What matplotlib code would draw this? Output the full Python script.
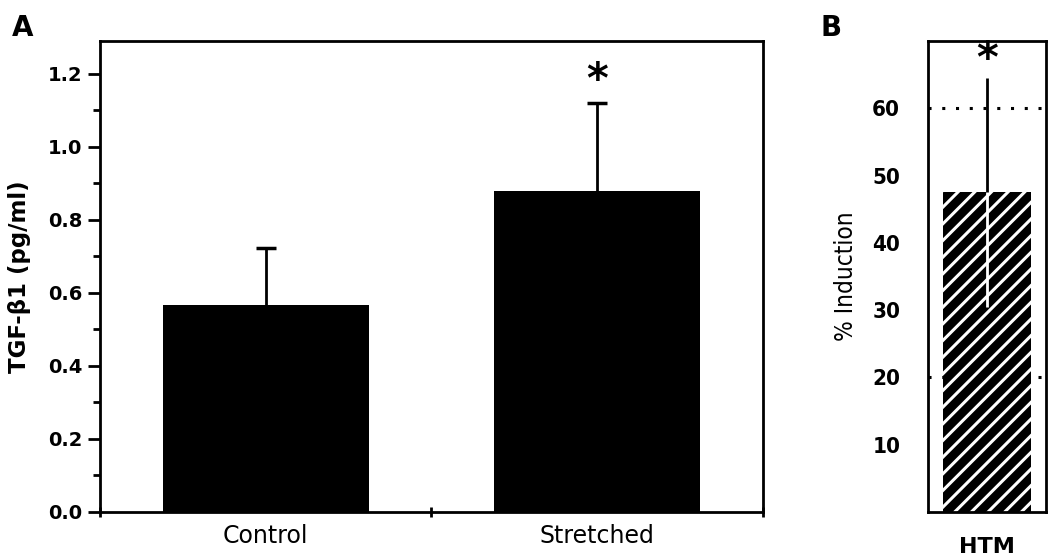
import matplotlib

matplotlib.use("Agg")

import matplotlib.pyplot as plt
import numpy as np
from matplotlib.ticker import MultipleLocator, FixedLocator

# panel A data
groups = ["Control", "Stretched"]
tgf_means = [0.567, 0.88]
tgf_err = [0.155, 0.24]
star_a = 1.18

# panel B data
htm_label = ["HTM"]
induction_mean = [47.5]
induction_err = [17.0]
ref_lines = [20, 60]
star_b = 67.2

plt.rcParams["hatch.linewidth"] = 2.2
narrow = ["Liberation Sans Narrow", "DejaVu Sans"]

fig = plt.figure(figsize=(10.5, 5.59), dpi=100)

# ---- panel A
ax = fig.add_axes([0.0952, 0.0841, 0.6315, 0.8426])
xs = np.array([1, 2])
tops = np.array(tgf_means) + np.array(tgf_err)
ax.bar(xs, tgf_means, width=0.62, color="black", zorder=2)
# only the upper half of each error bar is drawn
ax.vlines(xs, tgf_means, tops, color="black", linewidth=2, zorder=1)
ax.plot(xs, tops, linestyle="none", marker="_", markersize=15,
        markeredgewidth=2.5, color="black", zorder=1)
ax.text(2, star_a, "*", ha="center", va="center", fontsize=30, fontweight="bold")
ax.set_xlim(0.5, 2.5)
ax.set_ylim(0, 1.29)
ax.yaxis.set_minor_locator(MultipleLocator(0.1))
ax.set_yticks([0.0, 0.2, 0.4, 0.6, 0.8, 1.0, 1.2])
ax.set_yticklabels(["0.0", "0.2", "0.4", "0.6", "0.8", "1.0", "1.2"])
ax.set_xticks(xs)
ax.set_xticklabels(groups, fontsize=17)
ax.xaxis.set_minor_locator(FixedLocator([0.5, 1.5, 2.5]))
ax.tick_params(axis="x", which="major", length=0, pad=9)
ax.tick_params(axis="x", which="minor", length=7, width=2, direction="inout")
ax.tick_params(axis="y", which="major", length=8.5, width=2, pad=4, labelsize=14)
ax.tick_params(axis="y", which="minor", length=5, width=2)
for lbl in ax.get_yticklabels():
    lbl.set_fontweight("bold")
for s in ax.spines.values():
    s.set_linewidth(2)
ax.set_ylabel("TGF-β1 (pg/ml)", fontsize=16.5, fontweight="bold", labelpad=12)
fig.text(0.011, 0.975, "A", fontsize=20, fontweight="bold", va="top")

# ---- panel B
bx = fig.add_axes([0.8838, 0.0841, 0.1124, 0.8426])
for y in ref_lines:
    bx.axhline(y, color="black", linestyle=(0, (1, 3.5)), linewidth=2.2, zorder=1)
bx.bar([1], induction_mean, width=0.74, color="black", edgecolor="white",
       hatch="//", linewidth=0, zorder=2)
bx.errorbar([1], induction_mean, yerr=[[0], induction_err], fmt="none",
            ecolor="black", elinewidth=2, capsize=0, zorder=3)
bx.errorbar([1], induction_mean, yerr=[induction_err, [0]], fmt="none",
            ecolor="white", elinewidth=2, capsize=0, zorder=3)
bx.text(1, star_b, "*", ha="center", va="center", fontsize=30, fontweight="bold")
bx.set_xlim(0.5, 1.5)
bx.set_ylim(0, 70)
bx.set_yticks([10, 20, 30, 40, 50, 60])
bx.set_xticks([1])
bx.set_xticklabels(htm_label, fontsize=16, fontweight="bold")
bx.tick_params(axis="x", length=0, pad=18)
bx.tick_params(axis="y", length=0, pad=20, labelsize=16)
for lbl in bx.get_yticklabels():
    lbl.set_fontweight("bold")
    lbl.set_family(narrow)
    lbl.set_fontstretch("condensed")
for s in bx.spines.values():
    s.set_linewidth(2)
bx.set_ylabel("% Induction", fontsize=17.5, family=narrow, fontstretch="condensed",
              labelpad=10)
fig.text(0.781, 0.975, "B", fontsize=20, fontweight="bold", va="top")

fig.savefig("out.png", dpi=100)
